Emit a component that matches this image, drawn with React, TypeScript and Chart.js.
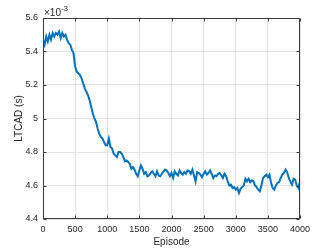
import React, { useEffect, useRef } from "react";
import { Chart, registerables } from "chart.js";

Chart.register(...registerables);

// LTCAD values (×10^-3 s), sampled every 25 episodes from 0 to 4000
const EPISODE_STEP = 25;
const ltcad: number[] = [
  5.47, 5.44, 5.49, 5.46, 5.50, 5.47, 5.51, 5.49, 5.51, 5.50,
  5.52, 5.48, 5.51, 5.49, 5.50, 5.47, 5.45, 5.44, 5.41, 5.39,
  5.31, 5.28, 5.27, 5.26, 5.24, 5.21, 5.18, 5.16, 5.14, 5.11,
  5.07, 5.03, 5.00, 4.98, 4.94, 4.91, 4.89, 4.88, 4.86, 4.84,
  4.84, 4.88, 4.83, 4.82, 4.79, 4.78, 4.77, 4.80, 4.80, 4.79,
  4.77, 4.745, 4.75, 4.74, 4.73, 4.70, 4.71, 4.695, 4.67, 4.655,
  4.69, 4.72, 4.70, 4.67, 4.68, 4.655, 4.66, 4.675, 4.685, 4.67,
  4.655, 4.685, 4.66, 4.655, 4.67, 4.685, 4.695, 4.69, 4.675, 4.655,
  4.675, 4.645, 4.685, 4.67, 4.66, 4.69, 4.675, 4.665, 4.68, 4.67,
  4.69, 4.685, 4.67, 4.695, 4.66, 4.625, 4.68, 4.675, 4.665, 4.65,
  4.67, 4.685, 4.665, 4.675, 4.69, 4.67, 4.645, 4.66, 4.655, 4.67,
  4.675, 4.66, 4.645, 4.67, 4.655, 4.625, 4.60, 4.605, 4.585, 4.59,
  4.575, 4.585, 4.555, 4.58, 4.59, 4.60, 4.64, 4.625, 4.64, 4.62,
  4.63, 4.625, 4.60, 4.59, 4.575, 4.565, 4.60, 4.645, 4.655, 4.665,
  4.65, 4.665, 4.615, 4.585, 4.575, 4.60, 4.615, 4.62, 4.645, 4.665,
  4.675, 4.695, 4.68, 4.645, 4.625, 4.605, 4.64, 4.635, 4.60, 4.585,
  4.625,
];

const xTicks = [0, 500, 1000, 1500, 2000, 2500, 3000, 3500, 4000];
const yTicks = [4.4, 4.6, 4.8, 5, 5.2, 5.4, 5.6];
const xLabel = "Episode";
const yLabel = "LTCAD (s)";
const exponentBase = "\u00d710";
const exponentPower = "-3";

const FONT = "'Liberation Sans', Arial, Helvetica, sans-serif";
const TEXT = "#262626";

const boxPlugin = {
  id: "matlabBox",
  afterDatasetsDraw(chart: any) {
    const { ctx, chartArea } = chart;
    const { left, right, top, bottom } = chartArea;
    const xs = chart.scales.x;
    const ys = chart.scales.y;
    ctx.save();
    ctx.strokeStyle = "#3a3a3a";
    ctx.lineWidth = 1;
    const L = Math.round(left) + 0.5;
    const R = Math.round(right) - 0.5;
    const T = Math.round(top) + 0.5;
    const B = Math.round(bottom) - 0.5;
    ctx.beginPath();
    ctx.rect(L, T, R - L, B - T);
    ctx.stroke();
    const tl = 3;
    ctx.beginPath();
    xs.ticks.forEach((t: any) => {
      const px = Math.round(xs.getPixelForValue(t.value)) + 0.5;
      ctx.moveTo(px, B);
      ctx.lineTo(px, B - tl);
      ctx.moveTo(px, T);
      ctx.lineTo(px, T + tl);
    });
    ys.ticks.forEach((t: any) => {
      const py = Math.round(ys.getPixelForValue(t.value)) + 0.5;
      ctx.moveTo(L, py);
      ctx.lineTo(L + tl, py);
      ctx.moveTo(R, py);
      ctx.lineTo(R - tl, py);
    });
    ctx.stroke();
    // exponent label
    ctx.fillStyle = TEXT;
    ctx.textBaseline = "alphabetic";
    ctx.textAlign = "left";
    ctx.font = `10px ${FONT}`;
    const baseX = left + 1;
    ctx.fillText(exponentBase, baseX, top - 1.8);
    const w = ctx.measureText(exponentBase).width;
    ctx.font = `7.5px ${FONT}`;
    ctx.fillText(exponentPower, baseX + w + 0.3, top - 6.8);
    ctx.restore();
  },
};

export default function App() {
  const ref = useRef<HTMLCanvasElement | null>(null);

  useEffect(() => {
    if (!ref.current) return;
    const data = ltcad.map((v, i) => ({ x: i * EPISODE_STEP, y: v }));
    const chart = new Chart(ref.current, {
      type: "line",
      data: {
        datasets: [
          {
            data,
            borderColor: "#0072BD",
            borderWidth: 2,
            pointRadius: 0,
            tension: 0,
            fill: false,
          },
        ],
      },
      options: {
        animation: false,
        responsive: false,
        maintainAspectRatio: false,
        layout: { padding: { top: 18, right: 32, left: 0, bottom: 0 } },
        plugins: { legend: { display: false }, tooltip: { enabled: false } },
        scales: {
          x: {
            type: "linear",
            min: 0,
            max: 4000,
            afterBuildTicks: (s: any) => {
              s.ticks = xTicks.map((v) => ({ value: v }));
            },
            afterFit: (s: any) => {
              s.height = 30;
            },
            grid: { color: "#e4e4e4", drawTicks: false, lineWidth: 1 },
            border: { display: false },
            ticks: {
              color: TEXT,
              font: { family: FONT, size: 9 },
              padding: 5,
              maxRotation: 0,
              autoSkip: false,
              callback: (v: any) => String(v),
            },
            title: {
              display: true,
              text: xLabel,
              color: TEXT,
              font: { family: FONT, size: 10 },
              padding: { top: 0, bottom: 1 },
            },
          },
          y: {
            type: "linear",
            min: 4.4,
            max: 5.6,
            afterBuildTicks: (s: any) => {
              s.ticks = yTicks.map((v) => ({ value: v }));
            },
            afterFit: (s: any) => {
              s.width = 43;
            },
            grid: { color: "#e4e4e4", drawTicks: false, lineWidth: 1 },
            border: { display: false },
            ticks: {
              color: TEXT,
              font: { family: FONT, size: 9 },
              padding: 5,
              autoSkip: false,
              callback: (v: any) => String(Math.round(Number(v) * 10) / 10),
            },
            title: {
              display: true,
              text: yLabel,
              color: TEXT,
              font: { family: FONT, size: 10 },
              padding: { top: 13, bottom: 0 },
            },
          },
        },
      },
      plugins: [boxPlugin],
    });
    return () => chart.destroy();
  }, []);

  return (
    <div style={{ position: "fixed", left: 0, top: 0, width: 332, height: 249, background: "#fff" }}>
      <canvas ref={ref} width={332} height={249} style={{ width: 332, height: 249, display: "block" }} />
    </div>
  );
}
